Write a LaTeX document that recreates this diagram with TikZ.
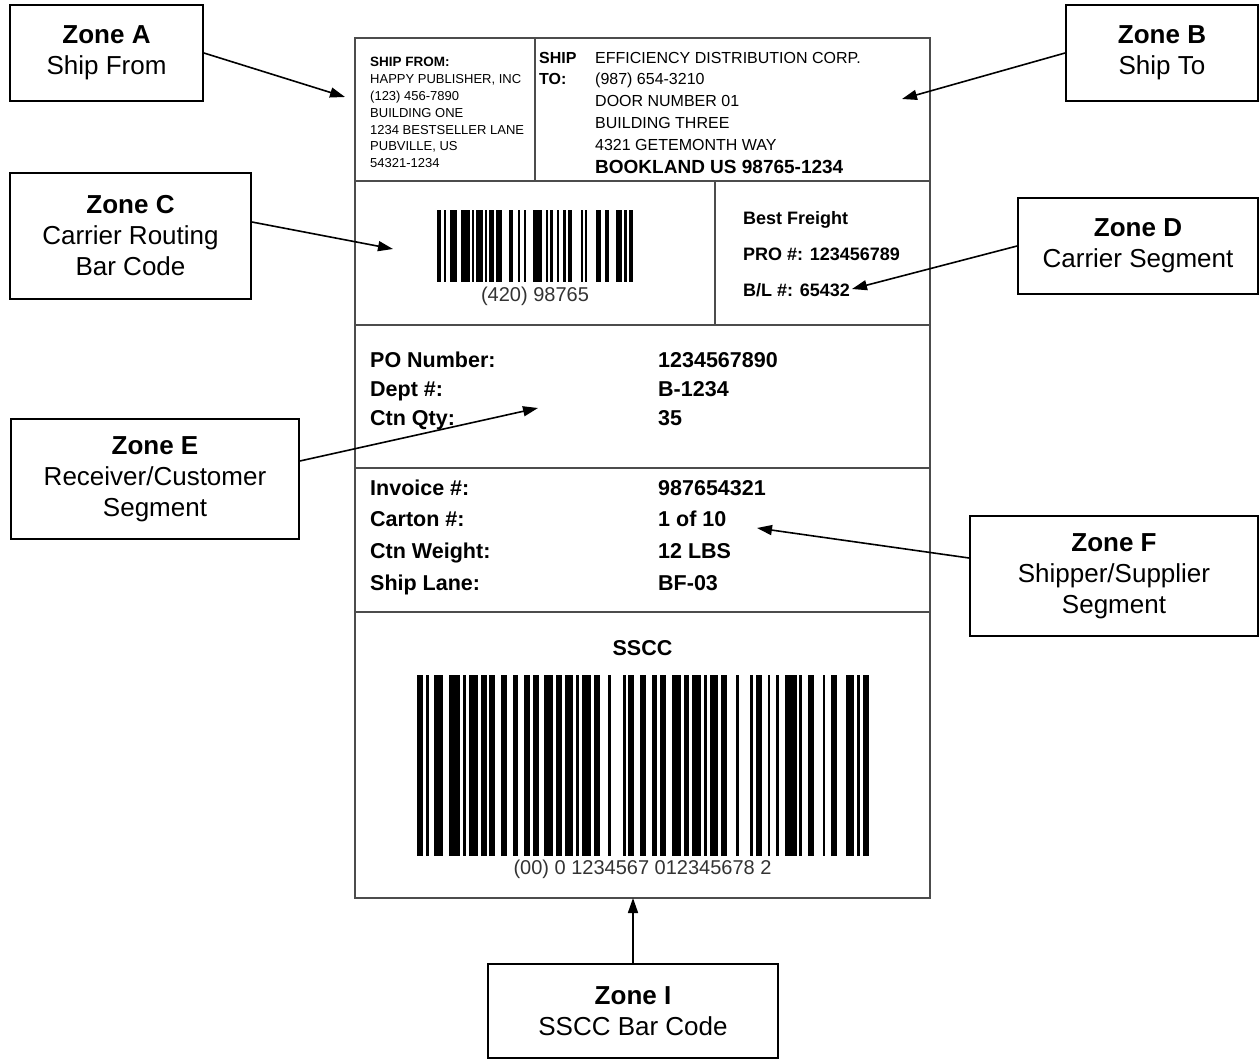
\documentclass[tikz,border=0pt]{standalone}
\usepackage{fontspec}
\setmainfont{Liberation Sans}
\usetikzlibrary{arrows.meta}
\newcommand\bcbars[5]{%
  \xdef\bcpos{#1}%
  \foreach \w [count=\k] in {#5}{%
    \ifodd\k\relax
      \fill[black] (\bcpos,#2) rectangle ++(\w*#4,#3);
    \fi
    \pgfmathsetmacro\bcnew{\bcpos+\w*#4}%
    \xdef\bcpos{\bcnew}%
  }%
}
\begin{document}
\begin{tikzpicture}[x=1pt,y=-1pt,
  zone/.style={draw=black, line width=1.8pt, align=center, inner sep=0pt,
    font=\fontsize{26}{31}\selectfont},
  arr/.style={line width=1.6pt, -{Triangle[length=15pt,width=10pt]}},
  cell/.style={draw=black!70, line width=1.3pt},
  sm/.style={anchor=base west, inner sep=0pt, font=\fontsize{13}{15}\selectfont},
  md/.style={anchor=base west, inner sep=0pt, font=\fontsize{16}{19}\selectfont},
  dz/.style={anchor=base west, inner sep=0pt, font=\fontsize{18}{21}\selectfont\bfseries},
  big/.style={anchor=base west, inner sep=0pt, font=\fontsize{21.5}{25}\selectfont\bfseries},
  num/.style={anchor=base, inner sep=0pt, text=black!80, font=\fontsize{20}{24}\selectfont}
]
\fill[white] (0,0) rectangle (1259,1059);
\useasboundingbox (0,0) rectangle (1259,1059);

% ---- shipping label ----
\node[cell, minimum width=575pt, minimum height=860pt, inner sep=0pt] (lbl) at (642.5,468) {};
\draw[cell] (535,38) -- (535,181);
\draw[cell] (355,181) -- (930,181);
\draw[cell] (715,181) -- (715,325);
\draw[cell] (355,325) -- (930,325);
\draw[cell] (355,468) -- (930,468);
\draw[cell] (355,612) -- (930,612);

% Zone A content
\node[sm, font=\fontsize{13.5}{15}\selectfont\bfseries] (sf0) at (370,67) {SHIP FROM:};
\node[sm] (sf1) at (370,83.8) {HAPPY PUBLISHER, INC};
\node[sm] (sf2) at (370,100.6) {(123) 456-7890};
\node[sm] (sf3) at (370,117.4) {BUILDING ONE};
\node[sm] (sf4) at (370,134.2) {1234 BESTSELLER LANE};
\node[sm] (sf5) at (370,151) {PUBVILLE, US};
\node[sm] (sf6) at (370,167.8) {54321-1234};

% Zone B content
\node[md, font=\fontsize{16}{19}\selectfont\bfseries] (st1) at (539,63.5) {SHIP};
\node[md, font=\fontsize{16}{19}\selectfont\bfseries] (st2) at (539,85) {TO:};
\node[md] (st3) at (595,63.5) {EFFICIENCY DISTRIBUTION CORP.};
\node[md] (st4) at (595,85) {(987) 654-3210};
\node[md] (st5) at (595,107) {DOOR NUMBER 01};
\node[md] (st6) at (595,129) {BUILDING THREE};
\node[md] (st7) at (595,150.5) {4321 GETEMONTH WAY};
\node[md, font=\fontsize{19}{22}\selectfont\bfseries] (st8) at (595,174) {BOOKLAND US 98765-1234};

% Zone C content: carrier routing bar code
\bcbars{437}{210}{72}{2.18}{2,1,1,2,3,2, 4,1,1,1,3,1, 1,1,2,1,3,3, 2,2,1,2,1,3, 4,2,1,1,1,2, 1,2,1,1,2,4, 1,1,1,4,2,2, 2,3,3,1,1,1,2}
\node[num] (bc1) at (535,302) {(420) 98765};

% Zone D content
\node[dz] (cd1) at (743,225) {Best Freight};
\node[dz] (cd2) at (743,261) {PRO \#: 123456789};
\node[dz] (cd3) at (743,297) {B/L \#: 65432};

% Zone E content
\node[big] (e1) at (370,367) {PO Number:};
\node[big] (e2) at (370,396) {Dept \#:};
\node[big] (e3) at (370,425) {Ctn Qty:};
\node[big] (e4) at (658,367) {1234567890};
\node[big] (e5) at (658,396) {B-1234};
\node[big] (e6) at (658,425) {35};

% Zone F content
\node[big] (f1) at (370,495) {Invoice \#:};
\node[big] (f2) at (370,526) {Carton \#:};
\node[big] (f3) at (370,558) {Ctn Weight:};
\node[big] (f4) at (370,590) {Ship Lane:};
\node[big] (f5) at (658,495) {987654321};
\node[big] (f6) at (658,526) {1 of 10};
\node[big] (f7) at (658,558) {12 LBS};
\node[big] (f8) at (658,590) {BF-03};

% Zone I content
\node[big, anchor=base] (ss) at (642.5,655) {SSCC};
\bcbars{417}{675}{181}{2.897}{2,1,1,2,3,2, 4,1,1,1,3,1, 2,1,2,2,2,2, 2,2,2,1,2,2, 3,1,2,1,3,1, 1,1,3,1,2,3, 1,4,1,1,2,2, 2,2,2,1,2,2, 3,1,2,1,3,1, 1,1,3,1,2,3, 1,4,1,1,2,2, 1,2,1,2,4,1, 1,2,2,3,1,2, 2,3,3,1,1,1,2}
\node[num] (bc2) at (642.5,874) {(00) 0 1234567 012345678 2};

% ---- arrow targets ----
\coordinate (tA) at (345,97);
\coordinate (tB) at (902,99);
\coordinate (tC) at (393,249);
\coordinate (tD) at (852,289);
\coordinate (tE) at (538,408);
\coordinate (tF) at (757,528);
\coordinate (tI) at (633,898);

% ---- zone callouts ----
\node[zone, minimum width=193pt, minimum height=96pt] (zA) at (106.5,53) {\textbf{Zone A}\\Ship From};
\node[zone, minimum width=192pt, minimum height=96pt] (zB) at (1162,53) {\textbf{Zone B}\\Ship To};
\node[zone, minimum width=241pt, minimum height=126pt] (zC) at (130.5,236) {\textbf{Zone C}\\Carrier Routing\\Bar Code};
\node[zone, minimum width=240pt, minimum height=96pt] (zD) at (1138,246) {\textbf{Zone D}\\Carrier Segment};
\node[zone, minimum width=288pt, minimum height=120pt] (zE) at (155,479) {\textbf{Zone E}\\Receiver/Customer\\Segment};
\node[zone, minimum width=288pt, minimum height=120pt] (zF) at (1114,576) {\textbf{Zone F}\\Shipper/Supplier\\Segment};
\node[zone, minimum width=290pt, minimum height=94pt] (zI) at (633,1011) {\textbf{Zone I}\\SSCC Bar Code};

\draw[arr] (zA.east) -- (tA);
\draw[arr] (zB.west) -- (tB);
\draw[arr] ([yshift=14pt]zC.east) -- (tC);
\draw[arr] (zD.west) -- (tD);
\draw[arr] ([yshift=18pt]zE.east) -- (tE);
\draw[arr] ([yshift=18pt]zF.west) -- (tF);
\draw[arr] (zI.north) -- (tI);
\end{tikzpicture}
\end{document}
